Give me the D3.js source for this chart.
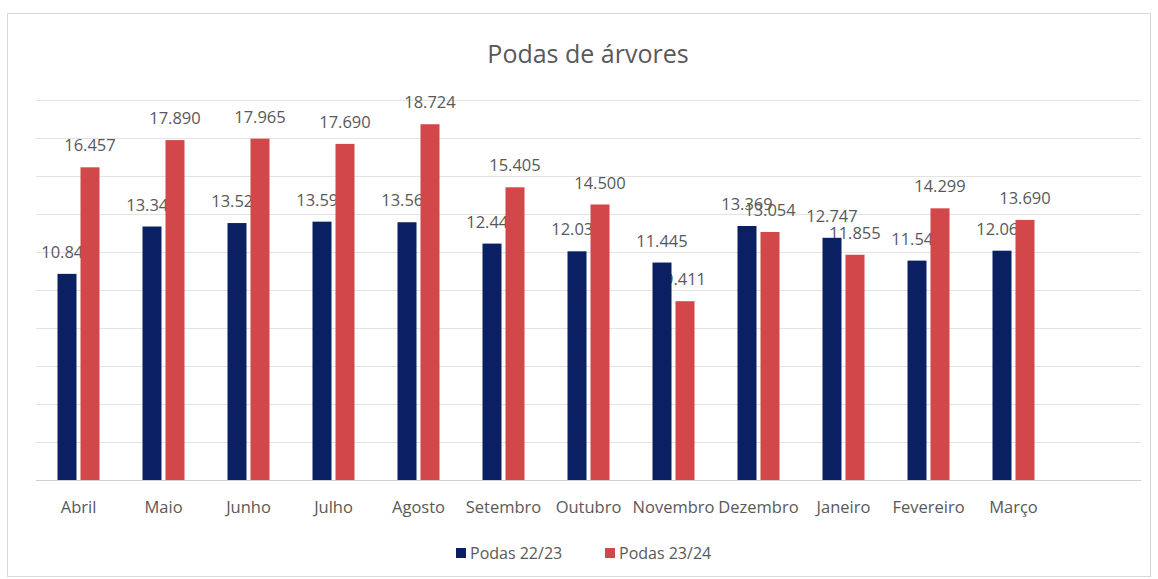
<!DOCTYPE html>
<html>
<head>
<meta charset="utf-8">
<script src="https://cdn.jsdelivr.net/npm/d3@7"></script>
<style>
  html, body { margin: 0; padding: 0; background: #fff; }
  svg { display: block; }
  text { font-family: "Open Sans", "DejaVu Sans", sans-serif; fill: #595959; }
</style>
</head>
<body>
<svg id="chart" width="1158" height="579"></svg>
<script>
const title = "Podas de árvores";
const months = ["Abril", "Maio", "Junho", "Julho", "Agosto", "Setembro", "Outubro", "Novembro", "Dezembro", "Janeiro", "Fevereiro", "Março"];
const seriesNames = ["Podas 22/23", "Podas 23/24"];
const podas2223 = [10849, 13342, 13523, 13597, 13566, 12442, 12036, 11445, 13369, 12747, 11546, 12068];
const podas2324 = [16457, 17890, 17965, 17690, 18724, 15405, 14500, 9411, 13054, 11855, 14299, 13690];
const yTicks = [0, 2000, 4000, 6000, 8000, 10000, 12000, 14000, 16000, 18000, 20000];
const colors = ["#0b1f63", "#d2474a"];

const svg = d3.select("#chart");

// frame
svg.append("rect").attr("x", 7.5).attr("y", 13.5).attr("width", 1143).attr("height", 563)
  .attr("fill", "#fff").attr("stroke", "#d9d9d9").attr("stroke-width", 1);

const plotLeft = 36, plotRight = 1141, plotTop = 100, plotBottom = 480;
const band = (plotRight - plotLeft) / 13;

const x = d3.scaleBand().domain(months).range([plotLeft, plotLeft + band * months.length]).paddingInner(0).paddingOuter(0);
const y = d3.scaleLinear().domain([0, 20000]).range([plotBottom, plotTop]);

// gridlines
svg.append("g").selectAll("line").data(yTicks).join("line")
  .attr("x1", plotLeft).attr("x2", plotRight)
  .attr("y1", d => Math.round(y(d)) + 0.5).attr("y2", d => Math.round(y(d)) + 0.5)
  .attr("stroke", d => d === 0 ? "#d0d0d0" : "#e3e3e3").attr("stroke-width", 1);

// title
svg.append("text").attr("x", 588).attr("y", 63).attr("text-anchor", "middle")
  .style("font-size", "25px").text(title);

const barW = 19, gap = 4;
const series = [podas2223, podas2324];
const offsets = [-(gap / 2 + barW), gap / 2];

const locale = d3.formatLocale({ decimal: ",", thousands: ".", grouping: [3], currency: ["R$", ""] });
const fmt = locale.format(",d");

// labels first (bars of the other series overlap them, as in the reference)
series.forEach((vals, si) => {
  svg.append("g").selectAll("text").data(vals).join("text")
    .attr("x", (d, i) => x(months[i]) + band / 2 + offsets[si] + barW / 2)
    .attr("y", d => y(d) - 16)
    .attr("text-anchor", "middle")
    .style("font-size", "16.5px")
    .text(d => fmt(d));
});

series.forEach((vals, si) => {
  svg.append("g").selectAll("rect").data(vals).join("rect")
    .attr("x", (d, i) => x(months[i]) + band / 2 + offsets[si])
    .attr("y", d => y(d))
    .attr("width", barW)
    .attr("height", d => plotBottom - y(d))
    .attr("fill", colors[si]);
});

// x axis labels
const xAxis = d3.axisBottom(x).tickSize(0).tickPadding(21);
const gx = svg.append("g").attr("transform", `translate(0,${plotBottom})`).call(xAxis);
gx.select(".domain").remove();
gx.selectAll("text").style("font-size", "16.5px").attr("fill", "#595959").style("font-family", "\"Open Sans\", sans-serif");

// legend
const leg = svg.append("g");
const legItems = [{ name: seriesNames[0], c: colors[0], x: 456 }, { name: seriesNames[1], c: colors[1], x: 605 }];
legItems.forEach(it => {
  leg.append("rect").attr("x", it.x).attr("y", 548).attr("width", 10).attr("height", 10).attr("fill", it.c);
  leg.append("text").attr("x", it.x + 14).attr("y", 559).style("font-size", "16px").text(it.name);
});
</script>
</body>
</html>
